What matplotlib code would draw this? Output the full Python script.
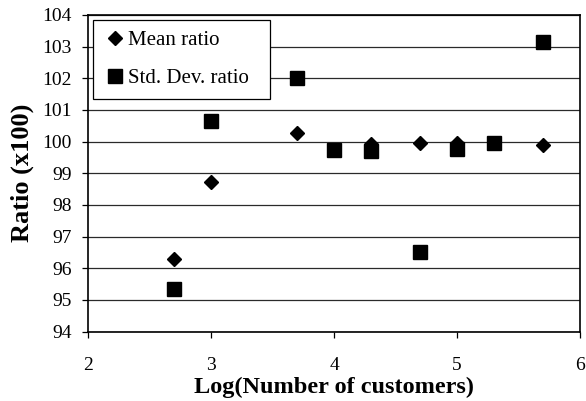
import matplotlib
matplotlib.use("Agg")
import matplotlib.pyplot as plt

plt.rcParams['font.family'] = ['Liberation Serif', 'DejaVu Serif']

log_customers = [2.7, 3.0, 3.7, 4.0, 4.3, 4.7, 5.0, 5.3, 5.7]
mean_ratio = [96.3, 98.72, 100.26, 99.72, 99.92, 99.94, 99.94, 99.94, 99.89]
std_ratio = [95.34, 100.66, 102.0, 99.74, 99.71, 96.52, 99.75, 99.94, 103.13]

x_ticks = [2, 3, 4, 5, 6]
y_ticks = [94, 95, 96, 97, 98, 99, 100, 101, 102, 103, 104]

fig = plt.figure(figsize=(5.86, 4.01), dpi=100)
ax = fig.add_axes([0.150, 0.173, 0.840, 0.790])

ax.set_axisbelow(True)
ax.grid(axis='y', color='#2a2a2a', linewidth=0.9)
ax.plot(log_customers, mean_ratio, linestyle='none', marker='D', markersize=7.5,
        color='black', label='Mean ratio', zorder=3)
ax.plot(log_customers, std_ratio, linestyle='none', marker='s', markersize=10,
        color='black', label='Std. Dev. ratio', zorder=3)

ax.set_xlim(2, 6)
ax.set_ylim(94, 104)
ax.set_xticks(x_ticks)
ax.set_yticks(y_ticks)
ax.tick_params(axis='both', labelsize=14, direction='out', length=4, width=0.9, colors='black')
ax.tick_params(axis='x', pad=14.5)
ax.tick_params(axis='y', pad=7.5)
for s in ax.spines.values():
    s.set_linewidth(1.2)
    s.set_color('black')

ax.set_xlabel('Log(Number of customers)', fontsize=17.5, fontweight='bold', labelpad=1.5)
ax.set_ylabel('Ratio (x100)', fontsize=19, fontweight='bold', labelpad=6)

leg = ax.legend(loc='upper left', bbox_to_anchor=(0.0102, 0.0, 0.36, 0.983),
                mode='expand', borderaxespad=0,
                fontsize=15, frameon=True, fancybox=False, edgecolor='black',
                framealpha=1, handlelength=1.12, handletextpad=0.06,
                labelspacing=0.88, borderpad=0.5, numpoints=1)
leg.get_frame().set_linewidth(0.9)

fig.savefig('out.png', dpi=100)
